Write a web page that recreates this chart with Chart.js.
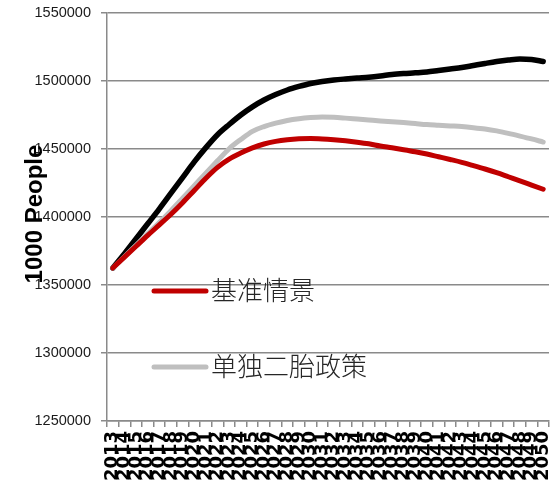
<!DOCTYPE html>
<html>
<head>
<meta charset="utf-8">
<script src="https://cdn.jsdelivr.net/npm/chart.js@4"></script>
<style>
  html, body { margin: 0; padding: 0; background: #fff; }
  #wrap { width: 556px; height: 486px; }
</style>
</head>
<body>
<div id="wrap"><canvas id="popChart" width="556" height="486"></canvas></div>
<script>
const years = [];
for (let y = 2013; y <= 2050; y++) years.push(String(y));

const seriesNames = ["基准情景", "单独二胎政策", "全面二胎政策"];

// 1000 people
const baseline = [
  1362500, 1370500, 1378500, 1386500, 1394200, 1402000, 1410500, 1419500, 1428500, 1436500,
  1442500, 1447000, 1450800, 1453700, 1455600, 1456800, 1457500, 1457700, 1457400, 1456800,
  1456000, 1455000, 1453800, 1452200, 1450900, 1449500, 1448000, 1446300, 1444300, 1442300,
  1440200, 1437800, 1435300, 1432600, 1429600, 1426600, 1423500, 1420400
];
const singleChild = [
  1362500, 1370800, 1379200, 1387600, 1396000, 1404700, 1413800, 1423000, 1432200, 1441300,
  1450200, 1457000, 1463000, 1466500, 1469000, 1471000, 1472300, 1473100, 1473500, 1473300,
  1472700, 1472000, 1471300, 1470600, 1470000, 1469400, 1468700, 1468000, 1467500, 1467000,
  1466500, 1465700, 1464700, 1463300, 1461500, 1459500, 1457400, 1455100
];
const twoChild = [
  1362500, 1373000, 1384000, 1395000, 1406000, 1417500, 1429000, 1440500, 1451000, 1460500,
  1468000, 1475000, 1481000, 1486000, 1490000, 1493400, 1496000, 1498200, 1499600, 1500700,
  1501500, 1502200, 1502800, 1503700, 1504800, 1505500, 1506000, 1506600, 1507700, 1508800,
  1509900, 1511400, 1512900, 1514300, 1515400, 1516200, 1515800, 1514300
];

const yTicks = [1250000, 1300000, 1350000, 1400000, 1450000, 1500000, 1550000];
const yTitle = "1000 People";

const gridColor = "#8a8a8a";

// Excel style legend sitting inside the plot; the third entry is cut off
const legendInPlot = {
  id: "legendInPlot",
  afterDatasetsDraw(chart) {
    const { ctx, chartArea } = chart;
    const rows = [278, 354];
    ctx.save();
    rows.forEach((dy, i) => {
      const ds = chart.data.datasets[i];
      const y = chartArea.top + dy;
      ctx.strokeStyle = ds.borderColor;
      ctx.lineWidth = 5;
      ctx.lineCap = "round";
      ctx.beginPath();
      ctx.moveTo(chartArea.left + 47, y);
      ctx.lineTo(chartArea.left + 99, y);
      ctx.stroke();
      ctx.fillStyle = "#262626";
      ctx.font = '300 26px "Noto Sans CJK SC"';
      ctx.textBaseline = "middle";
      ctx.textAlign = "left";
      ctx.fillText(ds.label, chartArea.left + 104, y - 1);
    });
    ctx.restore();
  },
  afterDraw(chart) {
    // axis title overlaps the tick labels in the original
    const { ctx, chartArea } = chart;
    ctx.save();
    ctx.translate(42, chartArea.top + 201);
    ctx.rotate(-Math.PI / 2);
    ctx.fillStyle = "#000";
    ctx.font = 'bold 24px "Liberation Sans"';
    ctx.textAlign = "center";
    ctx.textBaseline = "alphabetic";
    ctx.fillText(yTitle, 0, 0);
    ctx.restore();
  }
};

new Chart(document.getElementById("popChart"), {
  type: "line",
  data: {
    labels: years,
    datasets: [
      { label: seriesNames[0], data: baseline, borderColor: "#c00000", borderWidth: 5 },
      { label: seriesNames[1], data: singleChild, borderColor: "#bfbfbf", borderWidth: 5 },
      { label: seriesNames[2], data: twoChild, borderColor: "#000000", borderWidth: 5.5 }
    ]
  },
  options: {
    responsive: false,
    animation: false,
    layout: { padding: { left: 0, right: 7, top: 13, bottom: 0 } },
    elements: {
      point: { radius: 0 },
      line: { cubicInterpolationMode: "monotone", borderCapStyle: "round", borderJoinStyle: "round" }
    },
    plugins: {
      legend: { display: false },
      tooltip: { enabled: false }
    },
    scales: {
      x: {
        type: "category",
        offset: true,
        grid: { offset: true, drawOnChartArea: false, drawTicks: true, tickLength: 6, color: gridColor, lineWidth: 1.5 },
        border: { color: gridColor, width: 1.5 },
        ticks: {
          autoSkip: false, maxRotation: 90, minRotation: 90, padding: 4,
          color: "#000", font: { family: "DejaVu Sans", weight: "bold", size: 18 }
        },
        afterFit(scale) {
          scale.height = 65;
          scale.paddingLeft = 0;
          scale.paddingRight = 0;
        }
      },
      y: {
        min: yTicks[0],
        max: yTicks[yTicks.length - 1],
        afterBuildTicks(scale) { scale.ticks = yTicks.map(v => ({ value: v })); },
        grid: { color: gridColor, lineWidth: 1.5, tickLength: 6 },
        border: { color: gridColor, width: 1.5 },
        ticks: {
          padding: 10, color: "#1a1a1a",
          font: { family: "Liberation Sans", size: 14.5 },
          callback: v => String(v)
        },
        afterFit(scale) {
          scale.width = 107;
          scale.paddingTop = 0;
          scale.paddingBottom = 0;
        }
      }
    }
  },
  plugins: [legendInPlot]
});
</script>
</body>
</html>
